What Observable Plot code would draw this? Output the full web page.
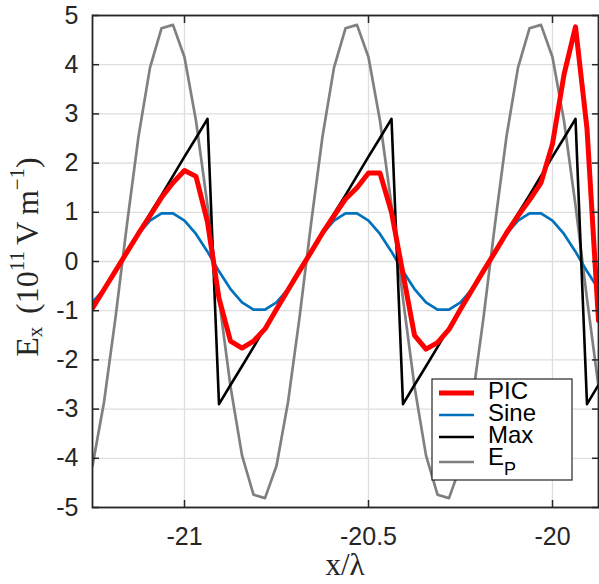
<!DOCTYPE html>
<html>
<head>
<meta charset="utf-8">
<script src="https://cdn.jsdelivr.net/npm/d3@7"></script>
<script src="https://cdn.jsdelivr.net/npm/@observablehq/plot@0.6"></script>
<style>
  html, body { margin: 0; padding: 0; background: #ffffff; }
  #chart { width: 599px; height: 584px; }
</style>
</head>
<body>
<div id="chart"></div>
<script>
// Sampling grid along x/λ (one sample every 1/32 wavelength)
const xStart = -21.25;
const xStep = 1 / 32;

// Longitudinal field E_x in units of 1e11 V/m
const pic = [
  -0.95, -0.57, -0.19, 0.19, 0.57, 0.93, 1.30, 1.60,
  1.85, 1.73, 0.80, -0.75, -1.62, -1.76, -1.62, -1.37,
  -0.97, -0.58, -0.19, 0.19, 0.58, 0.93, 1.27, 1.50,
  1.80, 1.80, 1.00, -0.25, -1.50, -1.78, -1.65, -1.38,
  -0.97, -0.58, -0.19, 0.19, 0.58, 0.93, 1.25, 1.60,
  2.39, 3.80, 4.77, 2.70, -1.20
];
const sine = [
  -0.83, -0.56, -0.20, 0.20, 0.56, 0.83, 0.98, 0.98,
  0.83, 0.56, 0.20, -0.20, -0.56, -0.83, -0.98, -0.98,
  -0.83, -0.56, -0.20, 0.20, 0.56, 0.83, 0.98, 0.98,
  0.83, 0.56, 0.20, -0.20, -0.56, -0.83, -0.98, -0.98,
  -0.83, -0.56, -0.20, 0.20, 0.56, 0.83, 0.98, 0.98,
  0.83, 0.56, 0.20, -0.20, -0.56
];
const maxWave = [
  -0.97, -0.58, -0.19, 0.19, 0.58, 0.97, 1.35, 1.74,
  2.13, 2.51, 2.90, -2.90, -2.51, -2.13, -1.74, -1.35,
  -0.97, -0.58, -0.19, 0.19, 0.58, 0.97, 1.35, 1.74,
  2.13, 2.51, 2.90, -2.90, -2.51, -2.13, -1.74, -1.35,
  -0.97, -0.58, -0.19, 0.19, 0.58, 0.97, 1.35, 1.74,
  2.13, 2.51, 2.90, -2.90, -2.51
];
const ep = [
  -4.15, -2.86, -1.14, 0.76, 2.54, 3.94, 4.74, 4.81,
  4.15, 2.86, 1.14, -0.76, -2.54, -3.94, -4.74, -4.81,
  -4.15, -2.86, -1.14, 0.76, 2.54, 3.94, 4.74, 4.81,
  4.15, 2.86, 1.14, -0.76, -2.54, -3.94, -4.74, -4.81,
  -4.15, -2.86, -1.14, 0.76, 2.54, 3.94, 4.74, 4.81,
  4.15, 2.86, 1.14, -0.76, -2.54
];

const xTicks = [-21, -20.5, -20];
const yTicks = [-5, -4, -3, -2, -1, 0, 1, 2, 3, 4, 5];
const xDomain = [-21.25, -19.875];
const yDomain = [-5, 5];

const seriesNames = ["PIC", "Sine", "Max", "E_P"];
const seriesColors = ["#ff0000", "#0072bd", "#000000", "#808080"];
const seriesWidths = [5, 2.7, 2.6, 2.7];

const rows = pic.map((v, i) => ({
  x: xStart + i * xStep,
  pic: v,
  sine: sine[i],
  max: maxWave[i],
  ep: ep[i]
}));

const axisColor = "#262626";
const gridColor = "#dedede";
const fmt = d => String(d);

const plot = Plot.plot({
  width: 599,
  height: 584,
  marginLeft: 92,
  marginRight: 1,
  marginTop: 15,
  marginBottom: 77,
  style: {
    fontFamily: "'Liberation Sans', Arial, sans-serif",
    fontSize: "25px",
    color: axisColor,
    background: "#ffffff"
  },
  x: { domain: xDomain },
  y: { domain: yDomain },
  marks: [
    Plot.gridX(xTicks, { stroke: gridColor, strokeOpacity: 1, strokeWidth: 1.3 }),
    Plot.gridY(yTicks, { stroke: gridColor, strokeOpacity: 1, strokeWidth: 1.3 }),
    Plot.line(rows, { x: "x", y: "ep", stroke: seriesColors[3], strokeWidth: seriesWidths[3], clip: true }),
    Plot.line(rows, { x: "x", y: "sine", stroke: seriesColors[1], strokeWidth: seriesWidths[1], clip: true }),
    Plot.line(rows, { x: "x", y: "max", stroke: seriesColors[2], strokeWidth: seriesWidths[2], clip: true }),
    Plot.line(rows, { x: "x", y: "pic", stroke: seriesColors[0], strokeWidth: seriesWidths[0], clip: true }),
    Plot.frame({ stroke: axisColor, strokeWidth: 1.8 }),
    // tick labels
    Plot.axisY(yTicks, { anchor: "left", tickSize: 0, tickPadding: 14, tickFormat: fmt, label: null }),
    Plot.axisX(xTicks, { anchor: "bottom", tickSize: 0, tickPadding: 20, tickFormat: fmt, label: null }),
    // inward tick marks on all four sides
    Plot.axisY(yTicks, { anchor: "left", tickSize: -7, tickFormat: () => "", label: null, strokeWidth: 1.5 }),
    Plot.axisY(yTicks, { anchor: "right", tickSize: -7, tickFormat: () => "", label: null, strokeWidth: 1.5 }),
    Plot.axisX(xTicks, { anchor: "bottom", tickSize: -7, tickFormat: () => "", label: null, strokeWidth: 1.5 }),
    Plot.axisX(xTicks, { anchor: "top", tickSize: -7, tickFormat: () => "", label: null, strokeWidth: 1.5 })
  ]
});

document.getElementById("chart").appendChild(plot);

const svg = d3.select(plot);
const serif = "'Liberation Serif', 'Times New Roman', serif";

// y-axis title: E_x (10^11 V m^-1)
const yTitle = svg.append("text")
  .attr("transform", "translate(31,257) rotate(-90)")
  .attr("text-anchor", "middle")
  .attr("dominant-baseline", "middle")
  .attr("font-family", serif)
  .attr("font-size", 32)
  .attr("fill", axisColor);
yTitle.append("tspan").text("E");
yTitle.append("tspan").attr("font-size", 21).attr("dy", 6).text("x");
yTitle.append("tspan").attr("dy", -6).text("\u2009\u2009(10");
yTitle.append("tspan").attr("font-size", 21).attr("dy", -12).text("11");
yTitle.append("tspan").attr("dy", 12).text("\u2009V\u2009m");
yTitle.append("tspan").attr("font-size", 21).attr("dy", -12).text("\u22121");
yTitle.append("tspan").attr("dy", 12).text(")");

// x-axis title
svg.append("text")
  .attr("x", 345)
  .attr("y", 568)
  .attr("text-anchor", "middle")
  .attr("dominant-baseline", "middle")
  .attr("font-family", serif)
  .attr("font-size", 31)
  .attr("fill", axisColor)
  .text("x/\u03bb");

// legend box
const legend = svg.append("g");
legend.append("rect")
  .attr("x", 432).attr("y", 379)
  .attr("width", 140).attr("height", 101)
  .attr("fill", "#ffffff")
  .attr("stroke", axisColor)
  .attr("stroke-width", 1.2);
const rowY = [393, 415, 437, 459];
seriesNames.forEach((name, i) => {
  const ly = rowY[i] + (i === 3 ? 3 : 0);
  legend.append("line")
    .attr("x1", 439).attr("x2", 474)
    .attr("y1", ly).attr("y2", ly)
    .attr("stroke", seriesColors[i])
    .attr("stroke-width", seriesWidths[i]);
  const t = legend.append("text")
    .attr("x", 488).attr("y", rowY[i])
    .attr("text-anchor", "start")
    .attr("dominant-baseline", "middle")
    .attr("font-family", "'Liberation Sans', Arial, sans-serif")
    .attr("font-size", 24)
    .attr("fill", "#000000");
  if (name === "E_P") {
    t.append("tspan").text("E");
    t.append("tspan").attr("font-size", 18).attr("dy", 11).text("P");
  } else {
    t.text(name);
  }
});
</script>
</body>
</html>
